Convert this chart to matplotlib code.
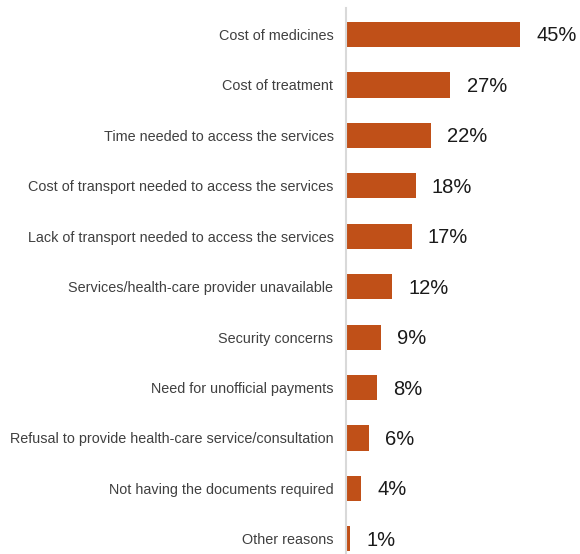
import matplotlib
matplotlib.use("Agg")
import matplotlib.pyplot as plt

reasons = [
    "Cost of medicines",
    "Cost of treatment",
    "Time needed to access the services",
    "Cost of transport needed to access the services",
    "Lack of transport needed to access the services",
    "Services/health-care provider unavailable",
    "Security concerns",
    "Need for unofficial payments",
    "Refusal to provide health-care service/consultation",
    "Not having the documents required",
    "Other reasons",
]
shares = [45, 27, 22, 18, 17, 12, 9, 8, 6, 4, 1]

plt.rcParams["font.family"] = ["Liberation Sans", "DejaVu Sans"]

fig = plt.figure(figsize=(5.8, 5.54), dpi=100)
ax = fig.add_axes([346 / 580, 0.0, 1 - 346 / 580, 1 - 8 / 554])

pos = list(range(len(reasons)))
ax.barh(pos, shares, height=0.5, color="#C05018")

for y, v in zip(pos, shares):
    ax.text(v + 4.2, y + 0.03, f"{v}%", va="center", ha="left", fontsize=14.5, color="#1a1a1a")

ax.set_xlim(0, 60.5)
ax.set_ylim(10.3, -0.525)
ax.set_yticks(pos)
ax.set_yticklabels(reasons, fontsize=10.4, color="#404040")
ax.tick_params(axis="y", length=0, pad=9)
ax.set_xticks([])

for side in ["top", "right", "bottom"]:
    ax.spines[side].set_visible(False)
ax.spines["left"].set_color("#d9d9d9")
ax.spines["left"].set_linewidth(1.5)

fig.savefig("out.png", dpi=100)
